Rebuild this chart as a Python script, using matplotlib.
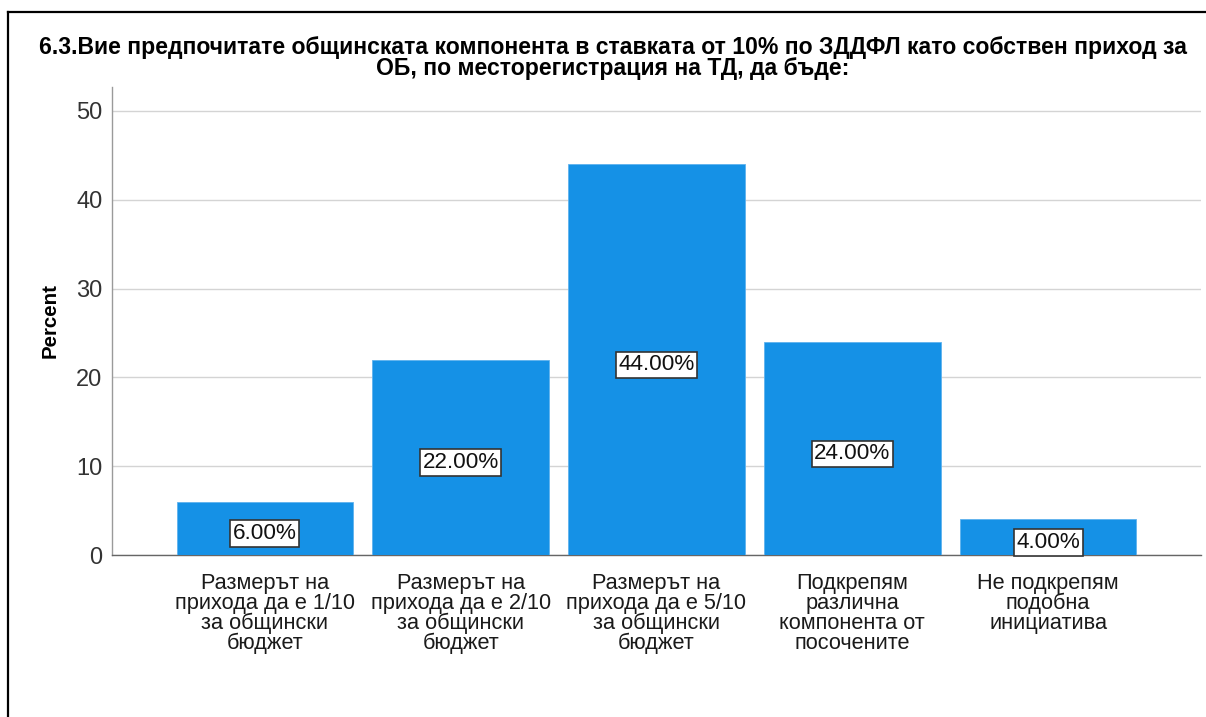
import matplotlib
matplotlib.use("Agg")
import matplotlib.pyplot as plt
from matplotlib.lines import Line2D

categories = [
    "Размерът на\nприхода да е 1/10\nза общински\nбюджет",
    "Размерът на\nприхода да е 2/10\nза общински\nбюджет",
    "Размерът на\nприхода да е 5/10\nза общински\nбюджет",
    "Подкрепям\nразлична\nкомпонента от\nпосочените",
    "Не подкрепям\nподобна\nинициатива",
]
percents = [6.0, 22.0, 44.0, 24.0, 4.0]
yticks = [0, 10, 20, 30, 40, 50]
title = ("6.3.Вие предпочитате общинската компонента в ставката от 10% по ЗДДФЛ като собствен приход за\n"
         "ОБ, по месторегистрация на ТД, да бъде:")

plt.rcParams["font.family"] = ["Liberation Sans", "DejaVu Sans"]

W, H = 1206, 717
fig = plt.figure(figsize=(W / 100, H / 100), dpi=100)
fig.patch.set_facecolor("white")

# axes box in pixels: left 112, right 1201, bottom y=555, top y=87
left, right, bottom, top = 112, 1201, 555, 87
ax = fig.add_axes([left / W, 1 - bottom / H, (right - left) / W, (bottom - top) / H])

x = list(range(len(categories)))
ax.bar(x, percents, width=0.9, color="#1591e6", edgecolor="#5fb2ee", linewidth=0.6, zorder=3)

ax.set_xlim(-0.78, len(categories) - 1 + 0.78)
ax.set_ylim(0, 52.7)
ax.set_yticks(yticks)
ax.set_yticklabels([str(t) for t in yticks], fontsize=17, color="#333333")
ax.set_xticks(x)
ax.set_xticklabels(categories, fontsize=15.7, color="#1a1a1a", linespacing=0.93)
ax.tick_params(axis="y", length=0, pad=7)
ax.tick_params(axis="x", length=0, pad=13)

ax.grid(axis="y", color="#d4d4d4", linewidth=1.0, zorder=0)
ax.set_axisbelow(True)
for s in ("top", "right"):
    ax.spines[s].set_visible(False)
ax.spines["left"].set_color("#9a9a9a")
ax.spines["left"].set_linewidth(1.0)
ax.spines["bottom"].set_color("#666666")
ax.spines["bottom"].set_linewidth(1.0)

ax.set_ylabel("Percent", fontsize=14.8, fontweight="bold", labelpad=12)

for xi, v in zip(x, percents):
    ax.text(xi, v / 2 - 0.6, f"{v:.2f}%", ha="center", va="center", fontsize=16.2,
            color="#111111", zorder=4,
            bbox=dict(boxstyle="square,pad=0.12", facecolor="white", edgecolor="#333333", linewidth=1.2))

fig.text(613 / W, 1 - 58 / H, title, ha="center", va="center", fontsize=16.6,
         fontweight="bold", linespacing=0.92)

# outer frame lines (left and top edges)
fig.add_artist(Line2D([8 / W, 8 / W], [0, 1 - 12 / H], transform=fig.transFigure,
                      color="black", linewidth=1.6))
fig.add_artist(Line2D([8 / W, 1], [1 - 12 / H, 1 - 12 / H], transform=fig.transFigure,
                      color="black", linewidth=1.6))

fig.savefig("out.png", dpi=100, facecolor="white")
